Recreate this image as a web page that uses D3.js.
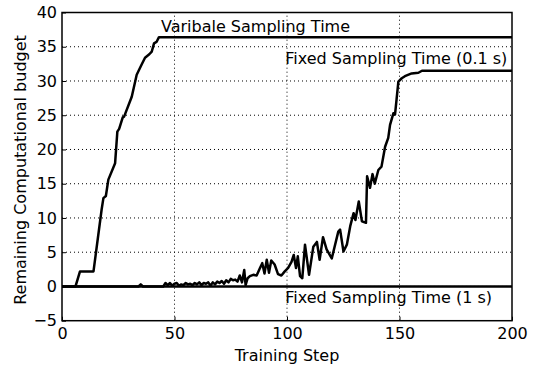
<!DOCTYPE html>
<html>
<head>
<meta charset="utf-8">
<script src="https://cdn.jsdelivr.net/npm/d3@7"></script>
<style>
  body { margin: 0; background: #fff; }
  text { font-family: "DejaVu Sans", sans-serif; }
</style>
</head>
<body>
<div id="chart"></div>
<script>
// Variable sampling time: [step, budget]
const variableSeries = [
  [0, 0], [6, 0], [8, 2.2], [14, 2.2], [17.6, 11.2], [18.4, 12.9], [19.5, 13.2],
  [20.6, 15.6], [23.6, 18.0], [24.6, 22.6], [25.4, 23.0], [27, 24.7], [27.6, 24.8],
  [31, 27.7], [33.2, 30.9], [35.4, 32.4], [36.9, 33.4], [38.8, 33.9], [39.9, 34.3],
  [40.9, 35.5], [42, 35.7], [43.1, 36.4], [200, 36.4]
];

// Fixed sampling time 0.1 s
const fixedFastSeries = [
  [0, 0], [34, 0], [35, 0.3], [36, 0], [45, 0], [46, 0.5], [47, 0.2], [48, 0.5],
  [49, 0.1], [50, 0.4], [51, 0.5], [52, 0.1], [53, 0.3], [54, 0.2], [55, 0.5],
  [56, 0.3], [57, 0.4], [58, 0.2], [59, 0.5], [60, 0.3], [61, 0.6], [62, 0.2],
  [63, 0.5], [64, 0.4], [65, 0.6], [66, 0.1], [67, 0.6], [68, 0.3], [69, 0.7],
  [70, 0.5], [71, 0.8], [72, 0.4], [73, 0.9], [74, 0.6], [75, 1.1], [76, 0.9],
  [77, 1.0], [78, 0.7], [79, 1.6], [80, 0.6], [81, 2.4], [81.6, 0.2], [82.5, 1.2],
  [83.5, 1.5], [85, 1.7], [86.5, 1.6], [88, 2.7], [89, 3.4], [90, 1.9], [91, 3.9],
  [92, 2.0], [93, 3.8], [94.5, 3.2], [96, 1.8], [97.5, 1.6], [99, 2.2], [100.5, 2.7],
  [102, 3.6], [103, 4.6], [104, 2.7], [104.8, 4.4], [105.8, 1.5], [106.8, 1.2],
  [108, 6.1], [109.8, 1.7], [111.7, 5.8], [113.3, 6.5], [114.5, 3.9], [116, 7.2],
  [117.6, 5.4], [119.9, 4.1], [122.8, 8.0], [123.6, 8.3], [125.1, 5.1], [126.6, 6.1],
  [128.1, 8.8], [129.6, 10.7], [130.4, 9.7], [131.9, 12.4], [133.3, 9.5], [135.1, 9.3],
  [135.6, 16.1], [136.9, 14.4], [138, 16.4], [139, 15.0], [140.6, 17.0], [142, 17.5],
  [143.6, 20.4], [145, 21.7], [145.8, 23.6], [147.3, 25.3], [148, 25.1], [148.7, 27.3],
  [149.5, 29.9], [151, 30.4], [152.4, 30.7], [155.4, 31.1], [158.4, 31.2], [160, 31.5],
  [200, 31.5]
];

// Fixed sampling time 1 s
const fixedSlowSeries = [[0, 0], [200, 0]];

const xTicks = [0, 50, 100, 150, 200];
const yTicks = [-5, 0, 5, 10, 15, 20, 25, 30, 35, 40];

const labels = [
  {text: 'Varibale Sampling Time', x: 44, y: 37.2},
  {text: 'Fixed Sampling Time (0.1 s)', x: 99.2, y: 32.5},
  {text: 'Fixed Sampling Time (1 s)', x: 99.2, y: -2.4}
];

const width = 534;
const height = 367;
const margin = {top: 12.5, right: 22, bottom: 46.3, left: 62};
const fontSize = 16;

const xScale = d3.scaleLinear()
  .domain([0, 200])
  .range([margin.left, width - margin.right]);

const yScale = d3.scaleLinear()
  .domain([-5, 40])
  .range([height - margin.bottom, margin.top]);

const svg = d3.select('#chart')
  .append('svg')
  .attr('width', width)
  .attr('height', height);

// grid
svg.append('g')
  .selectAll('line')
  .data(xTicks.slice(1, -1))
  .enter()
  .append('line')
  .attr('x1', d => xScale(d)).attr('x2', d => xScale(d))
  .attr('y1', yScale(-5)).attr('y2', yScale(40))
  .attr('stroke', '#000').attr('stroke-width', 1)
  .attr('stroke-dasharray', '1,3');

svg.append('g')
  .selectAll('line')
  .data(yTicks.slice(1, -1))
  .enter()
  .append('line')
  .attr('x1', xScale(0)).attr('x2', xScale(200))
  .attr('y1', d => yScale(d)).attr('y2', d => yScale(d))
  .attr('stroke', '#000').attr('stroke-width', 1)
  .attr('stroke-dasharray', '1,3');

// axes (ticks inside)
const xAxis = d3.axisBottom(xScale).tickValues(xTicks).tickSizeInner(-4).tickSizeOuter(0).tickPadding(7);
const yAxis = d3.axisLeft(yScale).tickValues(yTicks).tickSizeInner(-4).tickSizeOuter(0).tickPadding(5)
  .tickFormat(d => d < 0 ? '\u2212' + Math.abs(d) : d);

const gx = svg.append('g')
  .attr('transform', `translate(0, ${height - margin.bottom})`)
  .call(xAxis);
const gy = svg.append('g')
  .attr('transform', `translate(${margin.left}, 0)`)
  .call(yAxis);

[gx, gy].forEach(g => {
  g.select('.domain').remove();
  g.selectAll('text').attr('font-size', fontSize).attr('fill', '#000')
    .attr('font-family', '"DejaVu Sans", sans-serif');
  g.selectAll('line').attr('stroke', '#000');
});

// lines
const line = d3.line()
  .x(d => xScale(d[0]))
  .y(d => yScale(d[1]));

[fixedSlowSeries, fixedFastSeries, variableSeries].forEach(s => {
  svg.append('path')
    .datum(s)
    .attr('d', line)
    .attr('fill', 'none')
    .attr('stroke', '#000')
    .attr('stroke-width', 2.5)
    .attr('stroke-linejoin', 'round');
});

// frame
svg.append('rect')
  .attr('x', xScale(0))
  .attr('y', yScale(40))
  .attr('width', xScale(200) - xScale(0))
  .attr('height', yScale(-5) - yScale(40))
  .attr('fill', 'none')
  .attr('stroke', '#000')
  .attr('stroke-width', 1.5);

// annotations
svg.append('g')
  .selectAll('text')
  .data(labels)
  .enter()
  .append('text')
  .attr('x', d => xScale(d.x))
  .attr('y', d => yScale(d.y))
  .attr('font-size', fontSize)
  .attr('fill', '#000')
  .text(d => d.text);

// axis labels
svg.append('text')
  .attr('x', (xScale(0) + xScale(200)) / 2)
  .attr('y', 361)
  .attr('text-anchor', 'middle')
  .attr('font-size', fontSize)
  .text('Training Step');

svg.append('text')
  .attr('transform', 'translate(26, 170) rotate(-90)')
  .attr('text-anchor', 'middle')
  .attr('font-size', fontSize)
  .text('Remaining Computational budget');
</script>
</body>
</html>
